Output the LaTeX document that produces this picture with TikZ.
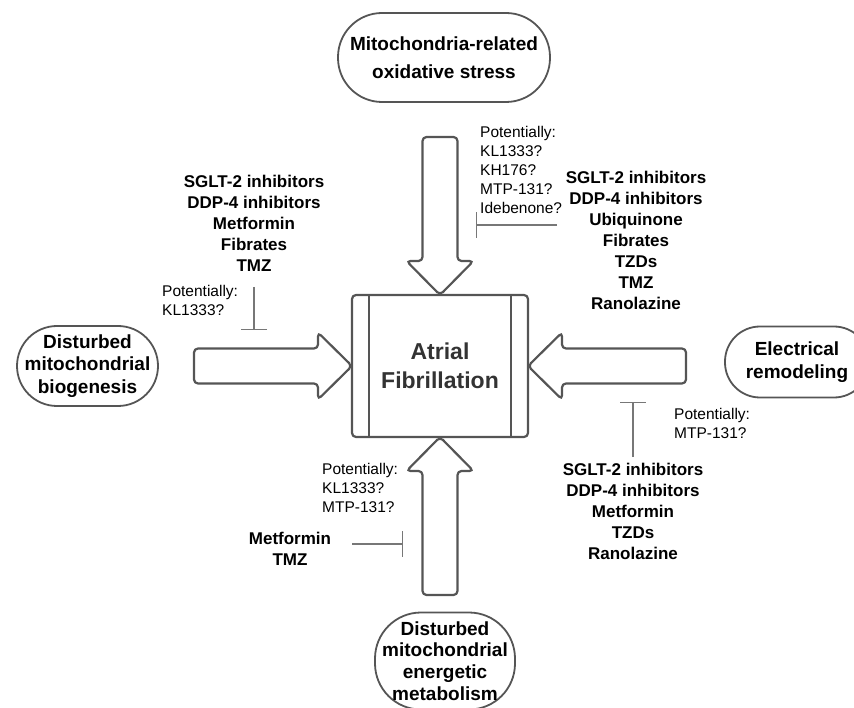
\documentclass[tikz,border=0pt]{standalone}
\usepackage{fontspec}
\setmainfont{Liberation Sans}
\usetikzlibrary{arrows.meta}

\definecolor{linegray}{HTML}{555555}
\definecolor{bargray}{HTML}{777777}
\definecolor{textgray}{HTML}{333333}

\begin{document}
\begin{tikzpicture}[x=1pt, y=-1pt,
  every node/.style = {align=center, inner sep=0pt},
  pill/.style = {draw=linegray, line width=1.8pt, rounded corners=36pt,
    font=\bfseries\fontsize{19}{22.5}\selectfont},
  drugs/.style = {font=\bfseries\fontsize{17}{21}\selectfont},
  maybe/.style = {align=left, anchor=west, font=\fontsize{15.5}{19}\selectfont},
  inhib/.style = {draw=bargray, line width=1.4pt, -{Bar[width=26pt]}},
  pics/bigarrow/.style = {code={
    \draw[draw=linegray, fill=white, line width=2.2pt, rounded corners=4pt]
      (0,0) -- (-34,-33.5) -- (-34,-17.5) -- (-158,-17.5)
      -- (-158,17.5) -- (-34,17.5) -- (-34,33.5) -- cycle;
  }}
]
  \useasboundingbox (0,0) rectangle (854,708);

  \node[draw=linegray, line width=2.2pt, rounded corners=4pt, outer sep=0pt,
    minimum width=176pt, minimum height=142pt, text=textgray,
    font=\bfseries\fontsize{23}{29}\selectfont] (af) at (440,366) {Atrial\\Fibrillation};
  \draw[linegray, line width=2.2pt] ([xshift=17pt]af.north west) -- ([xshift=17pt]af.south west);
  \draw[linegray, line width=2.2pt] ([xshift=-17pt]af.north east) -- ([xshift=-17pt]af.south east);

  \pic at (af.west) {bigarrow};
  \pic[rotate=180] at (af.east) {bigarrow};
  \pic[rotate=-90] at (af.north) {bigarrow};
  \pic[rotate=90] at (af.south) {bigarrow};

  \node[pill, minimum width=212pt, minimum height=89pt, rounded corners=44pt,
    font=\bfseries\fontsize{19}{28}\selectfont] (ros) at (444,57.5) {Mitochondria-related\\oxidative stress};
  \node[pill, minimum width=141pt, minimum height=80pt, rounded corners=40pt] (bio) at (87.5,366) {Disturbed\\mitochondrial\\biogenesis};
  \node[pill, minimum width=144pt, minimum height=71pt, rounded corners=35pt,
    font=\bfseries\fontsize{19}{23}\selectfont] (elec) at (797,362) {Electrical\\remodeling};
  \node[pill, minimum width=140pt, minimum height=97pt, rounded corners=46pt,
    font=\bfseries\fontsize{19}{21.7}\selectfont] (energy) at (445,661) {Disturbed\\mitochondrial\\energetic\\metabolism};

  \node[drugs] (ldrugs) at (254,223) {SGLT-2 inhibitors\\DDP-4 inhibitors\\Metformin\\Fibrates\\TMZ};
  \node[maybe] (lmaybe) at (162,300) {Potentially:\\KL1333?};
  \node[drugs] (tdrugs) at (636,240) {SGLT-2 inhibitors\\DDP-4 inhibitors\\Ubiquinone\\Fibrates\\TZDs\\TMZ\\Ranolazine};
  \node[maybe] (tmaybe) at (480,169.5) {Potentially:\\KL1333?\\KH176?\\MTP-131?\\Idebenone?};
  \node[maybe] (rmaybe) at (674,423.5) {Potentially:\\MTP-131?};
  \node[drugs] (rdrugs) at (633,511.5) {SGLT-2 inhibitors\\DDP-4 inhibitors\\Metformin\\TZDs\\Ranolazine};
  \node[maybe] (bmaybe) at (322,488) {Potentially:\\KL1333?\\MTP-131?};
  \node[drugs] (bdrugs) at (290,548.5) {Metformin\\TMZ};

  \coordinate (lfrom) at (254,287);
  \coordinate (lto) at (254,330);
  \coordinate (tfrom) at (557,225);
  \coordinate (tto) at (476,225);
  \coordinate (rfrom) at (633,457);
  \coordinate (rto) at (633,402);
  \coordinate (bfrom) at (352,544);
  \coordinate (bto) at (403,544);
  \draw[inhib] (lfrom) -- (lto);
  \draw[inhib] (tfrom) -- (tto);
  \draw[inhib] (rfrom) -- (rto);
  \draw[inhib] (bfrom) -- (bto);

\end{tikzpicture}
\end{document}
